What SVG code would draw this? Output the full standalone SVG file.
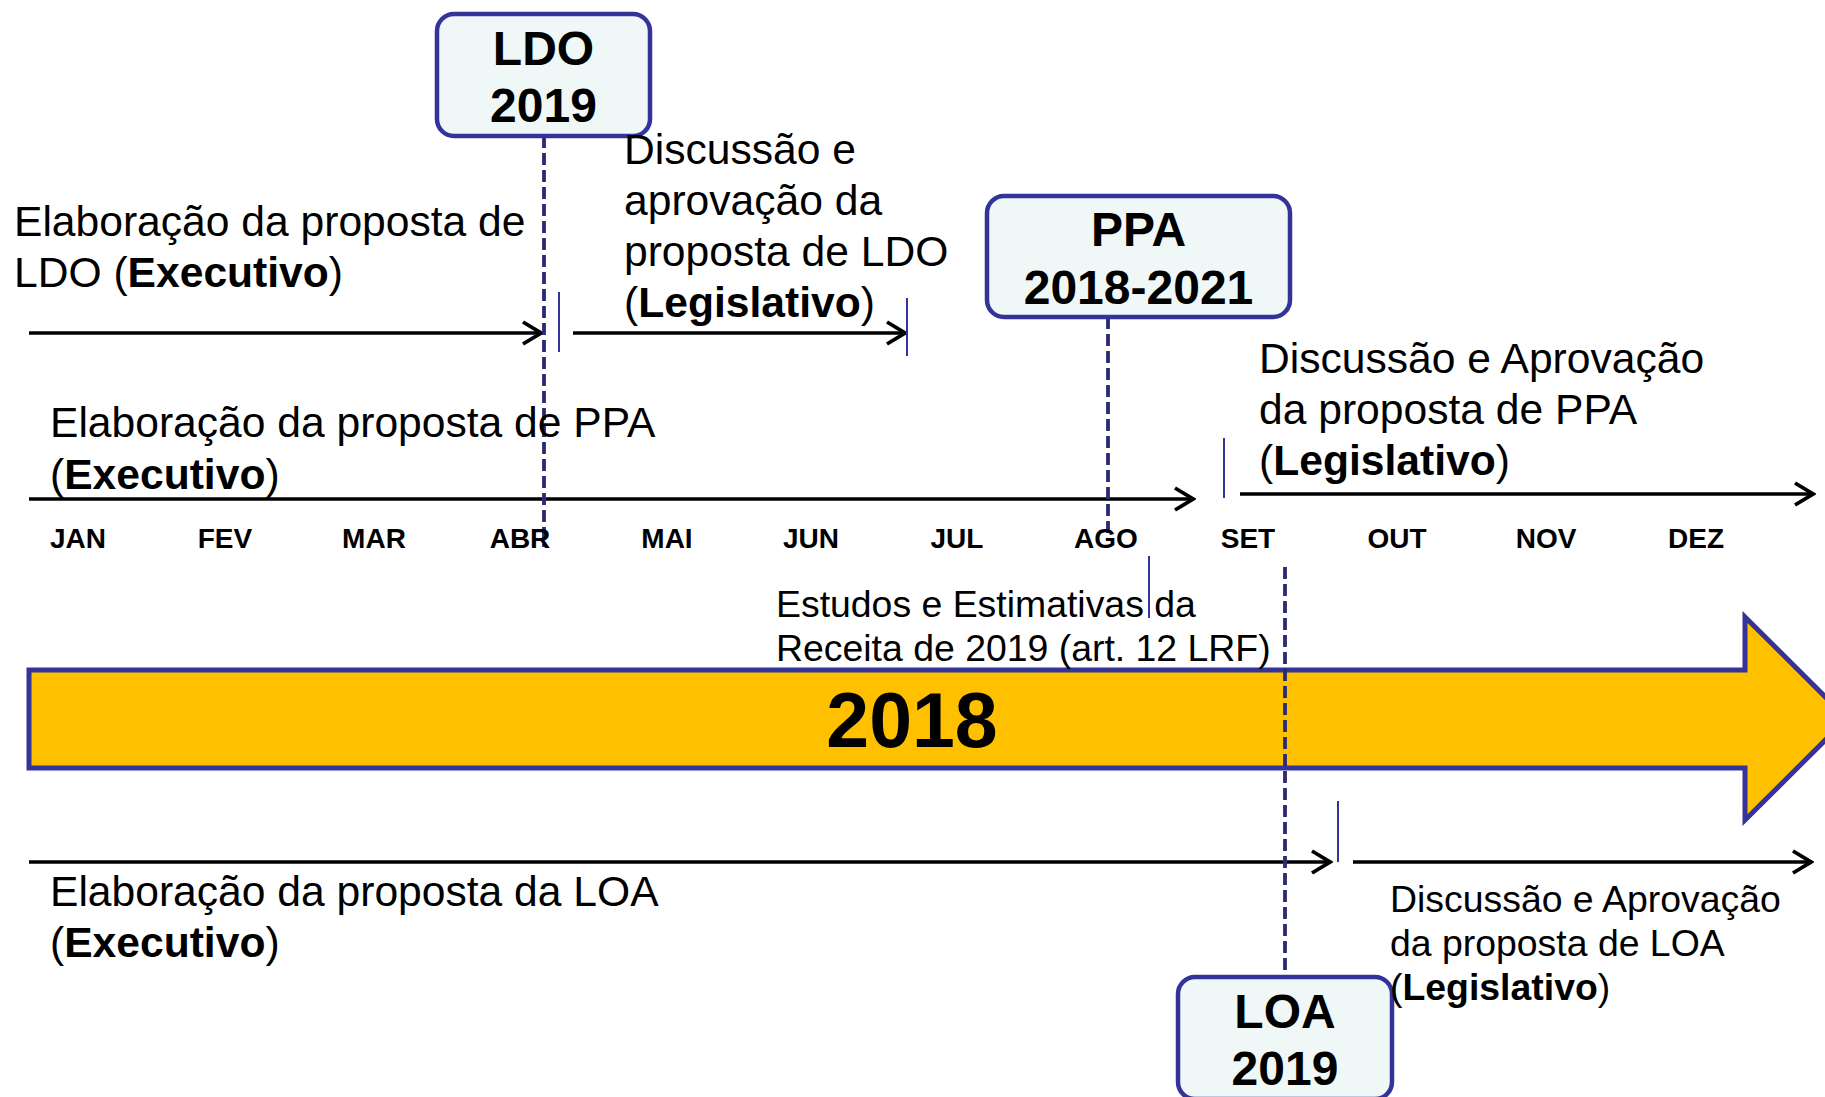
<svg xmlns="http://www.w3.org/2000/svg" width="1825" height="1097" viewBox="0 0 1825 1097">
<style>
text{font-family:"Liberation Sans",Arial,sans-serif;fill:#000}
.lbl{font-size:42.6px}
.sm{font-size:37.4px}
.b{font-weight:bold}
.mon{font-size:28px;font-weight:bold;text-anchor:middle}
.box rect{fill:#EFF8F7;stroke:#333399;stroke-width:4.5}
.box text{font-size:48px;font-weight:bold;text-anchor:middle}
.arr{stroke:#000;stroke-width:3.5;fill:none;marker-end:url(#chev)}
.tick{stroke:#333399;stroke-width:2}
.dash{stroke:#2B2B73;stroke-width:3.8;stroke-dasharray:12 5;fill:none}
</style>
<defs>
<marker id="chev" viewBox="0 0 24 26" refX="21" refY="13" markerWidth="24" markerHeight="26" markerUnits="userSpaceOnUse" orient="auto">
<path d="M3,2 L21,13 L3,24" fill="none" stroke="#000" stroke-width="3.8"/>
</marker>
</defs>
<rect width="1825" height="1097" fill="#fff"/>

<g id="year-2018">
<polygon points="29,670 1745,670 1745,617 1847,718.5 1745,820 1745,768 29,768" fill="#FFC000" stroke="#333399" stroke-width="5"/>
<text x="912" y="747" font-size="77" font-weight="bold" text-anchor="middle">2018</text>
</g>

<g id="connectors">
<line class="arr" x1="29" y1="333" x2="541" y2="333"/>
<line class="arr" x1="573" y1="333" x2="905" y2="333"/>
<line class="arr" x1="29" y1="499" x2="1193" y2="499"/>
<line class="arr" x1="1240" y1="494" x2="1813" y2="494"/>
<line class="arr" x1="29" y1="862" x2="1330" y2="862"/>
<line class="arr" x1="1353" y1="862" x2="1811" y2="862"/>
<line class="tick" x1="559" y1="292" x2="559" y2="352"/>
<line class="tick" x1="907" y1="298" x2="907" y2="356"/>
<line class="tick" x1="1224" y1="438" x2="1224" y2="498"/>
<line class="tick" x1="1149" y1="556" x2="1149" y2="618"/>
<line class="tick" x1="1338" y1="801" x2="1338" y2="862"/>
<line class="dash" x1="544" y1="136" x2="544" y2="547"/>
<line class="dash" x1="1108" y1="317" x2="1108" y2="540"/>
<line class="dash" x1="1285" y1="567" x2="1285" y2="977"/>
</g>

<g id="ldo-box" class="box">
<rect x="437" y="14" width="213" height="122" rx="17"/>
<text x="543.5" y="65">LDO</text>
<text x="543.5" y="122">2019</text>
</g>
<g id="ppa-box" class="box">
<rect x="987" y="196" width="303" height="121" rx="17"/>
<text x="1138.5" y="246">PPA</text>
<text x="1138.5" y="304">2018-2021</text>
</g>
<g id="loa-box" class="box">
<rect x="1178" y="977" width="214" height="122" rx="17"/>
<text x="1285" y="1028">LOA</text>
<text x="1285" y="1085">2019</text>
</g>

<g id="label-ldo-exec">
<text class="lbl" x="14" y="236">Elaboração da proposta de</text>
<text class="lbl" x="14" y="287">LDO (<tspan class="b">Executivo</tspan>)</text>
</g>
<g id="label-ldo-leg">
<text class="lbl" x="624" y="164">Discussão e</text>
<text class="lbl" x="624" y="215">aprovação da</text>
<text class="lbl" x="624" y="266">proposta de LDO</text>
<text class="lbl" x="624" y="317">(<tspan class="b">Legislativo</tspan>)</text>
</g>
<g id="label-ppa-exec">
<text class="lbl" x="50" y="437">Elaboração da proposta de PPA</text>
<text class="lbl" x="50" y="489">(<tspan class="b">Executivo</tspan>)</text>
</g>
<g id="label-ppa-leg">
<text class="lbl" x="1259" y="373">Discussão e Aprovação</text>
<text class="lbl" x="1259" y="424">da proposta de PPA</text>
<text class="lbl" x="1259" y="475">(<tspan class="b">Legislativo</tspan>)</text>
</g>
<g id="months">
<text class="mon" x="78" y="548">JAN</text>
<text class="mon" x="225" y="548">FEV</text>
<text class="mon" x="374" y="548">MAR</text>
<text class="mon" x="520" y="548">ABR</text>
<text class="mon" x="667" y="548">MAI</text>
<text class="mon" x="811" y="548">JUN</text>
<text class="mon" x="957" y="548">JUL</text>
<text class="mon" x="1106" y="548">AGO</text>
<text class="mon" x="1248" y="548">SET</text>
<text class="mon" x="1397" y="548">OUT</text>
<text class="mon" x="1546" y="548">NOV</text>
<text class="mon" x="1696" y="548">DEZ</text>
</g>
<g id="label-receita">
<text class="sm" x="776" y="617">Estudos e Estimativas da</text>
<text class="sm" x="776" y="661">Receita de 2019 (art. 12 LRF)</text>
</g>
<g id="label-loa-exec">
<text class="lbl" x="50" y="906">Elaboração da proposta da LOA</text>
<text class="lbl" x="50" y="957">(<tspan class="b">Executivo</tspan>)</text>
</g>
<g id="label-loa-leg">
<text class="sm" x="1390" y="912">Discussão e Aprovação</text>
<text class="sm" x="1390" y="956">da proposta de LOA</text>
<text class="sm" x="1390" y="1000">(<tspan class="b">Legislativo</tspan>)</text>
</g>
</svg>
